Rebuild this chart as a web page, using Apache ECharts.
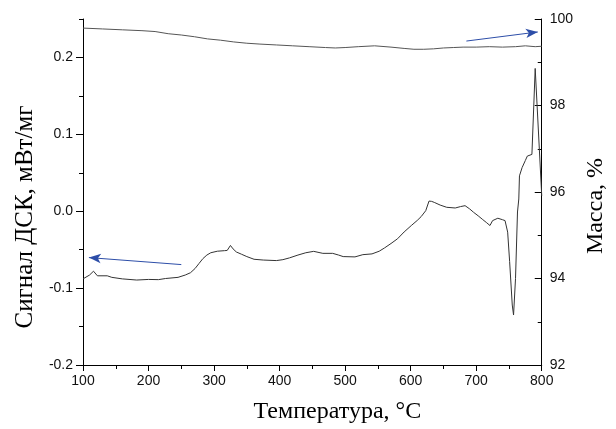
<!DOCTYPE html>
<html>
<head>
<meta charset="utf-8">
<script src="https://cdn.jsdelivr.net/npm/echarts@6/dist/echarts.min.js"></script>
<style>html,body{margin:0;padding:0;background:#fff}#c{width:616px;height:429px}</style>
</head>
<body>
<div id="c"></div>
<script>
// DSC signal (mW/mg) vs temperature (°C)
const dscTemp = [100,110,116,122,137,144,160,182,200,215,226,245,256,264,271,277,283,289,295,305,316,320,325,329,334,342,350,361,375,395,405,415,428,440,452,466,481,490,497,515,527,541,552,560,570,580,590,601,610,616,623,628,632,636,645,655,668,676,683,690,696,703,710,716,721,725,733,740,744,748,751,755,757,760,763,765,766,770,775,778,781,785,790,800];
const dscSignal = [-0.088,-0.083,-0.078,-0.084,-0.084,-0.086,-0.088,-0.0895,-0.0887,-0.089,-0.0875,-0.086,-0.083,-0.080,-0.0745,-0.068,-0.0616,-0.057,-0.054,-0.052,-0.0513,-0.051,-0.0445,-0.049,-0.053,-0.056,-0.059,-0.0625,-0.0635,-0.0642,-0.063,-0.0607,-0.057,-0.054,-0.0522,-0.0548,-0.0548,-0.057,-0.059,-0.0594,-0.0565,-0.0555,-0.052,-0.0478,-0.042,-0.0358,-0.027,-0.0186,-0.012,-0.007,0.0007,0.0132,0.0128,0.0115,0.008,0.0051,0.0042,0.006,0.0072,0.003,-0.0014,-0.006,-0.0109,-0.015,-0.0186,-0.0122,-0.0091,-0.011,-0.0122,-0.0272,-0.0655,-0.122,-0.135,-0.0874,-0.001,0.0159,0.046,0.0567,0.066,0.0717,0.0739,0.0739,0.1857,0.020];
// Mass (%) vs temperature (°C)
const massTemp = [100,130,160,190,210,230,250,270,290,310,330,350,370,395,420,445,470,485,500,520,545,570,590,605,620,635,650,665,680,700,720,740,760,775,790,800];
const massPercent = [99.79,99.77,99.75,99.73,99.71,99.66,99.63,99.59,99.54,99.51,99.47,99.44,99.42,99.40,99.38,99.36,99.34,99.33,99.34,99.36,99.38,99.35,99.32,99.30,99.30,99.31,99.33,99.34,99.35,99.35,99.36,99.35,99.36,99.38,99.36,99.37];
// Axis ranges and ticks
const xRange = [100,800];
const xTicks = [100,200,300,400,500,600,700,800];
const xMinorTicks = [150,250,350,450,550,650,750];
const leftRange = [-0.2,0.25];
const leftTicks = [-0.2,-0.1,0.0,0.1,0.2];
const leftMinorTicks = [-0.15,-0.05,0.05,0.15,0.25];
const rightRange = [92,100];
const rightTicks = [92,94,96,98,100];
const rightMinorTicks = [93,95,97,99];
// Annotation arrows: [fromX, fromY, toX, toY]
const arrowDsc = [250,-0.0694,109,-0.0603];
const arrowMass = [685,99.49,794,99.70];

const zip = (a,b)=>a.map((v,i)=>[v,b[i]]);
const chart = echarts.init(document.getElementById('c'), null, {renderer:'canvas'});
const labelFont = {fontFamily:'Liberation Sans, Arial, sans-serif', fontSize:14, color:'#111'};
const titleFont = {fontFamily:'Liberation Serif, Times New Roman, serif', fontSize:25, color:'#000'};
const black = {lineStyle:{color:'#000', width:1}};
const arrowStyle = {silent:true, symbol:['none','arrow'], symbolSize:[7,12], label:{show:false},
  lineStyle:{color:'#2d4ea8', width:1, type:'solid'}, emphasis:{disabled:true}};

function minorAxis(pos, range, vals, inside){
  return {type:'value', position:pos, min:range[0], max:range[1],
    axisLine:{show:false, onZero:false}, splitLine:{show:false}, axisLabel:{show:false},
    axisTick:{show:true, inside:!!inside, length:4, customValues:vals, ...black}};
}

chart.setOption({
  animation:false,
  grid:{left:83, right:65, top:19, bottom:62},
  xAxis:[
    {type:'value', position:'bottom', min:xRange[0], max:xRange[1],
     name:'Температура, °С', nameLocation:'middle', nameGap:35,
     nameTextStyle:{...titleFont, fontSize:24, padding:[0,0,0,50]},
     axisLine:{show:true, onZero:false, ...black},
     axisTick:{show:true, length:6, customValues:xTicks, ...black},
     splitLine:{show:false},
     axisLabel:{...labelFont, margin:9, customValues:xTicks}},
    minorAxis('bottom', xRange, xMinorTicks, false)
  ],
  yAxis:[
    {type:'value', position:'left', min:leftRange[0], max:leftRange[1],
     name:'Сигнал ДСК, мВт/мг', nameLocation:'middle', nameGap:44, nameTextStyle:{...titleFont, padding:[0,50,0,0]},
     axisLine:{show:true, onZero:false, ...black},
     axisTick:{show:true, length:7, customValues:leftTicks, ...black},
     splitLine:{show:false},
     axisLabel:{...labelFont, margin:10, customValues:leftTicks, formatter:v=>v.toFixed(1)}},
    {type:'value', position:'right', min:rightRange[0], max:rightRange[1],
     name:'Масса, %', nameLocation:'middle', nameGap:41, nameTextStyle:{...titleFont, fontSize:24, padding:[0,28,0,0]},
     axisLine:{show:true, onZero:false, ...black},
     axisTick:{show:true, inside:true, length:7, customValues:rightTicks, ...black},
     splitLine:{show:false},
     axisLabel:{...labelFont, margin:8, customValues:rightTicks, formatter:v=>String(v)}},
    minorAxis('left', leftRange, leftMinorTicks, false),
    minorAxis('right', rightRange, rightMinorTicks, true)
  ],
  series:[
    {type:'line', xAxisIndex:0, yAxisIndex:0, data:zip(dscTemp,dscSignal), showSymbol:false, symbol:'none',
     lineStyle:{color:'#333', width:1}, clip:false,
     markLine:{...arrowStyle, data:[[{coord:[arrowDsc[0],arrowDsc[1]]},{coord:[arrowDsc[2],arrowDsc[3]]}]]}},
    {type:'line', xAxisIndex:0, yAxisIndex:1, data:zip(massTemp,massPercent), showSymbol:false, symbol:'none',
     lineStyle:{color:'#555', width:1}, clip:false,
     markLine:{...arrowStyle, data:[[{coord:[arrowMass[0],arrowMass[1]]},{coord:[arrowMass[2],arrowMass[3]]}]]}}
  ]
});
</script>
</body>
</html>
